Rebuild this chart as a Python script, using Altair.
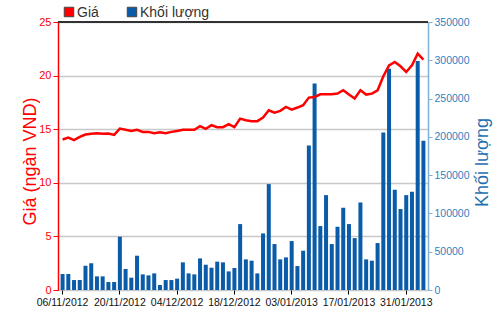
import altair as alt
import pandas as pd

# trading days (06/11/2012 .. 05/02/2013), holidays 31/12 and 01/01 skipped
days = [d for d in pd.bdate_range("2012-11-06", "2013-02-05")
        if d.strftime("%d/%m") not in ("31/12", "01/01")]
dates = [d.strftime("%d/%m/%Y") for d in days]

volume = [20900, 20900, 13000, 13000, 31700, 34800, 17800, 17800, 10400, 10400,
          69600, 27400, 16100, 44800, 20400, 19100, 21700, 6500, 13000, 13000,
          14800, 36100, 21700, 20400, 41300, 33000, 29100, 37000, 36100, 24300,
          28700, 86100, 40000, 38300, 21700, 73900, 138300, 60000, 40000, 42600,
          63900, 31300, 51300, 188700, 269600, 83500, 123900, 60000, 82600, 107400,
          86100, 67800, 114300, 40000, 38300, 61300, 205700, 289100, 130900, 105700,
          123900, 128300, 299000, 195000]

price = [14.04, 14.22, 13.98, 14.29, 14.50, 14.57, 14.63, 14.57, 14.60, 14.47,
         15.06, 14.94, 14.84, 14.94, 14.75, 14.75, 14.63, 14.72, 14.63, 14.75,
         14.84, 14.94, 14.94, 14.94, 15.28, 15.03, 15.37, 15.19, 15.19, 15.47,
         15.19, 15.99, 15.84, 15.75, 15.75, 16.09, 16.77, 16.55, 16.71, 17.08,
         16.83, 17.02, 17.24, 17.95, 18.01, 18.26, 18.26, 18.26, 18.32, 18.63,
         18.23, 17.86, 18.63, 18.23, 18.32, 18.63, 19.94, 20.96, 21.27, 20.87,
         20.34, 20.96, 22.05, 21.50]

tick_dates = ["06/11/2012", "20/11/2012", "04/12/2012", "18/12/2012",
              "03/01/2013", "17/01/2013", "31/01/2013"]

legend_labels = ["Giá", "Khối lượng"]

RED = "#ff0000"
BLUE = "#0b5ca8"
AXBLUE = "#2f7fbf"
FONT = "Liberation Sans"

df = pd.DataFrame({"date": dates, "volume": volume, "price": price})

W, H = 370, 268

xenc = alt.X("date:O", sort=None,
             scale=alt.Scale(paddingInner=0.3, paddingOuter=0.45),
             axis=alt.Axis(values=tick_dates, labelAngle=0, title=None,
                           domain=False, ticks=True, tickColor="#000000",
                           tickSize=4, labelColor="#111111", labelFont=FONT,
                           labelFontSize=10.5, labelPadding=3, grid=False))

bars = alt.Chart(df).mark_bar(color=BLUE).encode(
    x=xenc,
    y=alt.Y("volume:Q", scale=alt.Scale(domain=[0, 350000], nice=False),
            axis=alt.Axis(orient="right", values=list(range(0, 350001, 50000)),
                          format="d", title="Khối lượng", grid=False,
                          domainColor="#7fb0d8", domainWidth=1.5,
                          tickColor="#7fb0d8", tickSize=4,
                          labelColor=AXBLUE, labelFont=FONT, labelFontSize=10.5,
                          labelPadding=2,
                          titleColor="#1f6fb0", titleFont=FONT,
                          titleFontSize=18, titleFontWeight="normal",
                          titleAngle=270, titleBaseline="middle",
                          titleAlign="center", titleX=54, titleY=140)),
)

line = alt.Chart(df).mark_line(color=RED, strokeWidth=2.5).encode(
    x=alt.X("date:O", sort=None),
    y=alt.Y("price:Q", scale=alt.Scale(domain=[0, 25], nice=False),
            axis=alt.Axis(orient="left", values=[0, 5, 10, 15, 20, 25],
                          title="Giá (ngàn VND)", grid=True,
                          gridColor="#c8c8c8", gridWidth=1.5,
                          domainColor=RED, domainWidth=1.5,
                          tickColor=RED, tickSize=5,
                          labelColor=RED, labelFont=FONT, labelFontSize=11,
                          labelPadding=2,
                          titleColor=RED, titleFont=FONT,
                          titleFontSize=18, titleFontWeight="normal",
                          titleAngle=270, titleBaseline="middle",
                          titleAlign="center", titleX=-28, titleY=139)),
)

top_rule = alt.Chart(df).mark_rule(color="#333333", strokeWidth=1.5).encode(
    x=alt.value(0), x2=alt.value(W), y=alt.value(0))

leg_df = pd.DataFrame({"label": legend_labels, "color": [RED, BLUE],
                       "px": [11, 74]})

leg_sq = alt.Chart(leg_df).mark_square(size=90, opacity=1, strokeWidth=1,
                                      stroke="#444444").encode(
    x=alt.X("px:Q", scale=None),
    y=alt.value(-10),
    color=alt.Color("color:N", scale=None),
)
leg_tx = alt.Chart(leg_df).mark_text(align="left", baseline="middle",
                                    font=FONT, fontSize=14,
                                    color="#333333").encode(
    x=alt.X("px2:Q", scale=None),
    y=alt.value(-9),
    text="label:N",
).transform_calculate(px2="datum.px + 8")

chart = alt.layer(bars, line, top_rule, leg_sq, leg_tx).resolve_scale(
    y="independent"
).properties(
    width=W, height=H,
    autosize=alt.AutoSizeParams(type="none"),
    padding={"left": 58, "top": 22, "right": 72, "bottom": 22},
).configure_view(stroke=None).configure(background="white")

chart.save("out.html", embed_options={"renderer": "svg", "actions": False})
